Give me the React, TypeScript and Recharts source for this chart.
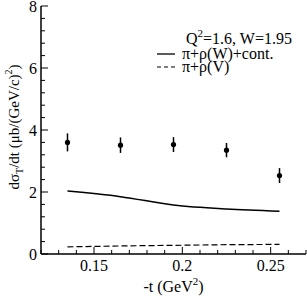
import React from "react";
import {
  ComposedChart,
  Line,
  Scatter,
  ErrorBar,
  XAxis,
  YAxis,
  Customized,
} from "recharts";

// -t values where data and model are given
const tValues = [0.135, 0.165, 0.195, 0.225, 0.255];
// measured d(sigma_T)/dt and its error
const sigmaT = [3.6, 3.51, 3.53, 3.35, 2.53];
const sigmaErr = [0.29, 0.25, 0.24, 0.23, 0.24];
// model curves
const modelFull = [2.03, 1.85, 1.58, 1.45, 1.38];
const modelV = [0.23, 0.26, 0.28, 0.3, 0.31];

const xTicks = [0.12, 0.13, 0.14, 0.15, 0.16, 0.17, 0.18, 0.19, 0.2, 0.21, 0.22, 0.23, 0.24, 0.25, 0.26, 0.27];
const xMajor = [0.15, 0.2, 0.25];
const yTicks = [0, 0.4, 0.8, 1.2, 1.6, 2, 2.4, 2.8, 3.2, 3.6, 4, 4.4, 4.8, 5.2, 5.6, 6, 6.4, 6.8, 7.2, 7.6, 8];
const yMajor = [0, 2, 4, 6, 8];

const points = tValues.map((x, i) => ({ x, y: sigmaT[i], err: sigmaErr[i] }));
const fullLine = tValues.map((x, i) => ({ x, y: modelFull[i] }));
const vLine = tValues.map((x, i) => ({ x, y: modelV[i] }));

const FONT = "'Liberation Serif', 'Times New Roman', serif";
const txt = { fontFamily: FONT, fontSize: 16, fill: "#000" };
const isMajor = (list: number[], v: number) => list.some((m) => Math.abs(m - v) < 1e-6);

const makeXTick = (side: "bottom" | "top") => (p: any) => {
  const v = p.payload.value;
  const len = isMajor(xMajor, v) ? 7 : 4;
  const dir = side === "bottom" ? -1 : 1;
  return (
    <g>
      <line x1={p.x} x2={p.x} y1={p.y} y2={p.y + dir * len} stroke="#000" strokeWidth={1} />
      {side === "bottom" && isMajor(xMajor, v) && (
        <text x={p.x} y={p.y + 17} textAnchor="middle" style={txt}>
          {String(Number(v.toFixed(2)))}
        </text>
      )}
    </g>
  );
};

const makeYTick = (side: "left" | "right") => (p: any) => {
  const v = p.payload.value;
  const len = isMajor(yMajor, v) ? 7 : 4;
  const dir = side === "left" ? 1 : -1;
  return (
    <g>
      <line x1={p.x} x2={p.x + dir * len} y1={p.y} y2={p.y} stroke="#000" strokeWidth={1} />
      {side === "left" && isMajor(yMajor, v) && (
        <text x={p.x - 4} y={p.y + 5.5} textAnchor="end" style={txt}>
          {String(v)}
        </text>
      )}
    </g>
  );
};

const Dot = (p: any) => <circle cx={p.cx} cy={p.cy} r={2.6} fill="#000" />;

const Annotations = () => (
  <g style={txt}>
    <text x={186} y={44} style={txt}>
      Q<tspan fontSize={11} dy={-7}>2</tspan>
      <tspan dy={7}>=1.6, W=1.95</tspan>
    </text>
    <line x1={157} x2={175} y1={54} y2={54} stroke="#000" strokeWidth={1.3} />
    <text x={182} y={59} style={txt}>π+ρ(W)+cont.</text>
    <line x1={157} x2={175} y1={67} y2={67} stroke="#000" strokeWidth={1.1} strokeDasharray="4 3" />
    <text x={182} y={72} style={txt}>π+ρ(V)</text>
    <text x={173.5} y={292} textAnchor="middle" style={txt}>
      -t (GeV<tspan fontSize={11} dy={-7}>2</tspan>
      <tspan dy={7}>)</tspan>
    </text>
    <text x={19} y={127} textAnchor="middle" transform="rotate(-90 19 127)" style={{ ...txt, fontSize: 15 }}>
      dσ<tspan fontSize={10} dy={4}>T</tspan>
      <tspan dy={-4}>/dt (μb/(GeV/c)</tspan>
      <tspan fontSize={10} dy={-7}>2</tspan>
      <tspan dy={7}>)</tspan>
    </text>
  </g>
);

const App = () => {
  return (
    <div style={{ position: "absolute", left: 0, top: 0, width: 307, height: 296, background: "#fff" }}>
      <ComposedChart width={307} height={296} margin={{ top: 6, right: 1, left: 0, bottom: 0 }}>
        <XAxis
          dataKey="x"
          type="number"
          domain={[0.12, 0.27]}
          ticks={xTicks}
          interval={0}
          allowDataOverflow
          height={42}
          tickSize={0}
          tickMargin={0}
          tickLine={false}
          tick={makeXTick("bottom")}
          axisLine={{ stroke: "#000", strokeWidth: 1.5 }}
        />
        <XAxis
          xAxisId="top"
          orientation="top"
          dataKey="x"
          type="number"
          domain={[0.12, 0.27]}
          ticks={xTicks}
          interval={0}
          allowDataOverflow
          height={0}
          tickSize={0}
          tickMargin={0}
          tickLine={false}
          tick={makeXTick("top")}
          axisLine={{ stroke: "#000", strokeWidth: 1.5 }}
        />
        <YAxis
          type="number"
          domain={[0, 8]}
          ticks={yTicks}
          interval={0}
          allowDataOverflow
          width={41}
          tickSize={0}
          tickMargin={0}
          tickLine={false}
          tick={makeYTick("left")}
          axisLine={{ stroke: "#000", strokeWidth: 1.5 }}
        />
        <YAxis
          yAxisId="right"
          orientation="right"
          type="number"
          domain={[0, 8]}
          ticks={yTicks}
          interval={0}
          allowDataOverflow
          width={0}
          tickSize={0}
          tickMargin={0}
          tickLine={false}
          tick={makeYTick("right")}
          axisLine={{ stroke: "#000", strokeWidth: 1.5 }}
        />
        <Line
          data={fullLine}
          dataKey="y"
          type="monotone"
          stroke="#000"
          strokeWidth={1.5}
          dot={false}
          isAnimationActive={false}
        />
        <Line
          data={vLine}
          dataKey="y"
          type="linear"
          stroke="#000"
          strokeWidth={1.2}
          strokeDasharray="6 3"
          dot={false}
          isAnimationActive={false}
        />
        <Scatter data={points} dataKey="y" shape={<Dot />} isAnimationActive={false}>
          <ErrorBar dataKey="err" direction="y" width={0} stroke="#000" strokeWidth={1.5} isAnimationActive={false} />
        </Scatter>
        <Customized component={<Annotations />} />
      </ComposedChart>
    </div>
  );
};

export default App;
